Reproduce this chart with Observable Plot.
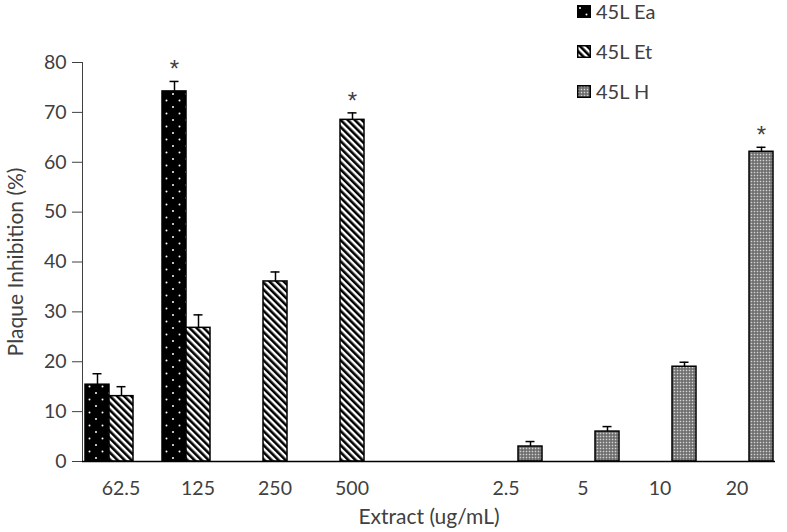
<!DOCTYPE html>
<html><head><meta charset="utf-8">
<script src="https://cdn.jsdelivr.net/npm/d3@7"></script>
<script src="https://cdn.jsdelivr.net/npm/@observablehq/plot@0.6"></script>
<style>
body{margin:0;background:#fff;}
#wrap{position:relative;width:787px;height:532px;font-family:Lato,sans-serif;}
#legend{position:absolute;left:577px;top:0;}
.item{position:absolute;left:0;display:flex;align-items:center;white-space:nowrap;font-size:20px;color:#404040;height:20px;}
.item svg{margin-right:5px;}
g[aria-label="fx-axis label"] text, g[aria-label="y-axis label"] text{font-size:21px;}
</style></head><body><div id="wrap"><div id="legend"></div></div>
<script>
// Categories (blank slot between the two dose series)
const concentrations = ["62.5", "125", "250", "500", "gap", "2.5", "5", "10", "20"];
const series = ["45L Ea", "45L Et", "45L H"];
const yTicks = [0, 10, 20, 30, 40, 50, 60, 70, 80];

// Values per concentration (null = no bar)
const eaValues = [15.4, 74.2, null, null, null, null, null, null, null];
const eaErrors = [2.2, 2.0, null, null, null, null, null, null, null];
const etValues = [13.1, 26.8, 36.1, 68.5, null, null, null, null, null];
const etErrors = [1.9, 2.6, 1.9, 1.4, null, null, null, null, null];
const hValues = [null, null, null, null, null, 3.0, 6.0, 19.0, 62.1];
const hErrors = [null, null, null, null, null, 1.0, 1.0, 0.9, 0.9];
const significant = [["125", "45L Ea"], ["500", "45L Et"], ["20", "45L H"]];

const fills = {"45L Ea": "url(#pat-ea)", "45L Et": "url(#pat-et)", "45L H": "url(#pat-h)"};

const data = [];
[[series[0], eaValues, eaErrors], [series[1], etValues, etErrors], [series[2], hValues, hErrors]]
  .forEach(([s, vals, errs]) => vals.forEach((v, i) => {
    if (v != null) data.push({conc: concentrations[i], series: s, value: v, err: errs[i], top: v + errs[i],
      star: significant.some(([c, ss]) => c === concentrations[i] && ss === s)});
  }));

const baseline = concentrations.map(c => ({conc: c}));

const barMarks = series.map(s => Plot.barY(data.filter(d => d.series === s), {
  fx: "conc", x: "series", y: "value", fill: fills[s], stroke: "black", strokeWidth: 1.5
}));

const chart = Plot.plot({
  width: 787,
  height: 532,
  marginLeft: 80,
  marginRight: 10,
  marginTop: 62,
  marginBottom: 71,
  style: {fontFamily: "Lato, sans-serif", fontSize: "19.5px", color: "#404040", background: "white"},
  fx: {domain: concentrations, padding: 0, axis: "bottom", tickSize: 0, tickPadding: 20,
       tickFormat: d => d === "gap" ? "" : d, label: "Extract (ug/mL)", labelAnchor: "center", labelOffset: 62, labelArrow: "none"},
  x: {domain: series, axis: null, paddingInner: 0, paddingOuter: 0.05},
  y: {domain: [0, 80], ticks: yTicks, tickSize: 10, tickPadding: 6, label: "Plaque Inhibition (%)",
      labelAnchor: "center", labelOffset: 74, labelArrow: "none", line: true},
  marks: [
    ...barMarks,
    Plot.ruleX(data, {fx: "conc", x: "series", y1: "value", y2: "top", stroke: "black", strokeWidth: 1.5}),
    Plot.tickY(data, {fx: "conc", x: "series", y: "top", stroke: "black", strokeWidth: 1.5, insetLeft: 7.5, insetRight: 7.5}),
    Plot.text(data.filter(d => d.star), {fx: "conc", x: "series", y: "top", text: () => "*", dy: -12, fontSize: 24,
      fontFamily: "Liberation Sans, sans-serif", fill: "#404040"}),
    Plot.ruleY(baseline, {fx: "conc", y: 0, stroke: "black", strokeWidth: 1.5})
  ]
});

const svg = chart.tagName.toLowerCase() === "svg" ? chart : chart.querySelector("svg");
const defs = d3.select(svg).insert("defs", ":first-child");
const pe = defs.append("pattern").attr("id", "pat-ea").attr("patternUnits", "userSpaceOnUse").attr("width", 13).attr("height", 13);
pe.append("rect").attr("width", 13).attr("height", 13).attr("fill", "black");
pe.append("circle").attr("cx", 3).attr("cy", 3).attr("r", 1).attr("fill", "white");
pe.append("circle").attr("cx", 9.5).attr("cy", 9.5).attr("r", 1).attr("fill", "white");
const pt = defs.append("pattern").attr("id", "pat-et").attr("patternUnits", "userSpaceOnUse").attr("width", 5).attr("height", 5).attr("patternTransform", "rotate(-45)");
pt.append("rect").attr("width", 5).attr("height", 5).attr("fill", "white");
pt.append("rect").attr("width", 2.6).attr("height", 5).attr("fill", "black");
const ph = defs.append("pattern").attr("id", "pat-h").attr("patternUnits", "userSpaceOnUse").attr("width", 3).attr("height", 3);
ph.append("rect").attr("width", 3).attr("height", 3).attr("fill", "#666");
ph.append("rect").attr("x", 0.7).attr("y", 0.7).attr("width", 1.6).attr("height", 1.6).attr("fill", "#d4d4d4");

document.getElementById("wrap").prepend(chart);

// Legend overlay
const legend = d3.select("#legend");
const legendY = [1, 41, 81];
series.forEach((s, i) => {
  const item = legend.append("div").attr("class", "item").style("top", legendY[i] + "px");
  const sw = item.append("svg").attr("width", 14).attr("height", 13);
  sw.append("rect").attr("x", 0.75).attr("y", 0.75).attr("width", 12.5).attr("height", 11.5)
    .attr("fill", fills[s]).attr("stroke", "black").attr("stroke-width", 1.5);
  item.append("span").text(s);
});
</script>
</body></html>
